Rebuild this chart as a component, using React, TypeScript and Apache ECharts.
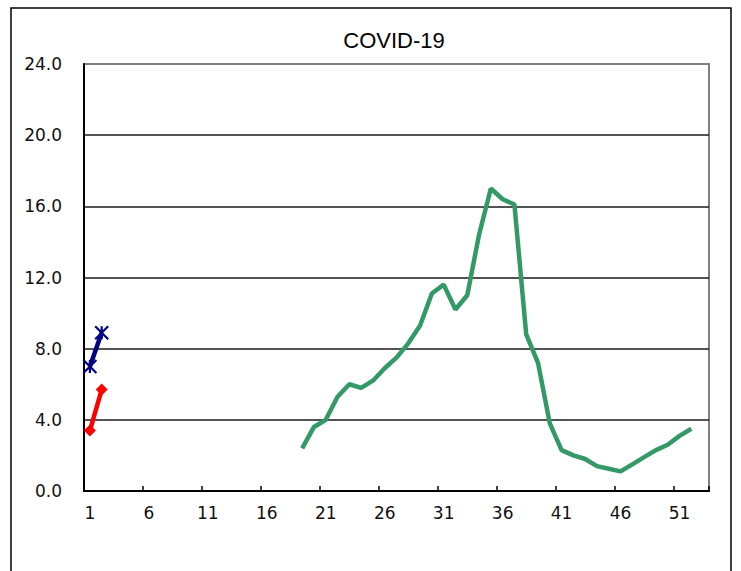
import React, { useEffect, useRef } from "react";
import * as echarts from "echarts";

const weeks: string[] = [
  "1","2","3","4","5","6","7","8","9","10","11","12","13","14","15","16","17","18","19","20",
  "21","22","23","24","25","26","27","28","29","30","31","32","33","34","35","36","37","38","39","40",
  "41","42","43","44","45","46","47","48","49","50","51","52","53",
];

// Week 1-18: no data; week 19-52 values; week 53: no data
const covidGreen: (number | null)[] = [
  null, null, null, null, null, null, null, null, null, null,
  null, null, null, null, null, null, null, null,
  2.4, 3.6, 4.0, 5.3, 6.0, 5.8, 6.2, 6.9, 7.5, 8.3, 9.3, 11.1, 11.6, 10.2, 11.0, 14.4,
  17.0, 16.4, 16.1, 8.8, 7.2, 3.8, 2.3, 2.0, 1.8, 1.4, 1.25, 1.1, 1.5, 1.9, 2.3, 2.6,
  3.1, 3.5, null,
];

const seriesRed: (number | null)[] = [3.4, 5.7];
const seriesBlue: (number | null)[] = [7.0, 8.9];

const yTicks: number[] = [0, 4, 8, 12, 16, 20, 24];

export default function App() {
  const ref = useRef<HTMLDivElement>(null);

  useEffect(() => {
    document.body.style.margin = "0";
    if (!ref.current) return;
    const chart = echarts.init(ref.current, undefined, { renderer: "svg" });
    const font = "DejaVu Sans";
    chart.setOption({
      animation: false,
      backgroundColor: "#ffffff",
      title: {
        text: "COVID-19",
        left: 389,
        top: 24,
        textAlign: "center",
        textStyle: {
          fontFamily: "Liberation Sans",
          fontSize: 22,
          fontWeight: "normal",
          color: "#000",
        },
      },
      graphic: [
        {
          type: "rect",
          shape: { x: 11, y: 8, width: 720, height: 620 },
          style: { fill: "none", stroke: "#000", lineWidth: 1.5 },
          silent: true,
          z: 0,
        },
      ],
      grid: {
        left: 84,
        right: 32,
        top: 64,
        bottom: 80,
        show: true,
        borderColor: "#7f7f7f",
        borderWidth: 2,
        backgroundColor: "transparent",
      },
      xAxis: {
        type: "category",
        data: weeks,
        boundaryGap: true,
        axisLine: { show: true, lineStyle: { color: "#000", width: 2 } },
        axisTick: {
          show: true,
          inside: true,
          length: 5,
          interval: 4,
          lineStyle: { color: "#000", width: 1.5 },
        },
        axisLabel: {
          interval: 4,
          margin: 13,
          fontFamily: font,
          fontSize: 17,
          color: "#111",
        },
        splitLine: { show: false },
      },
      yAxis: {
        type: "value",
        min: yTicks[0],
        max: yTicks[yTicks.length - 1],
        interval: 4,
        axisLine: { show: true, lineStyle: { color: "#000", width: 2 } },
        axisTick: { show: false },
        axisLabel: {
          margin: 22,
          fontFamily: font,
          fontSize: 17,
          color: "#111",
          formatter: (v: number) => v.toFixed(1),
        },
        splitLine: {
          show: true,
          showMaxLine: false,
          lineStyle: { color: "#1a1a1a", width: 1.6 },
        },
      },
      series: [
        {
          name: "green",
          type: "line",
          data: covidGreen,
          showSymbol: false,
          symbol: "none",
          connectNulls: false,
          lineStyle: { color: "#339966", width: 4.5 },
          itemStyle: { color: "#339966" },
          z: 3,
        },
        {
          name: "red",
          type: "line",
          data: seriesRed,
          symbol: "diamond",
          symbolSize: 12,
          showSymbol: true,
          showAllSymbol: true,
          lineStyle: { color: "#ff0000", width: 4.5 },
          itemStyle: { color: "#ff0000" },
          z: 4,
        },
        {
          name: "blue",
          type: "line",
          data: seriesBlue,
          symbol: "path://M0,0L10,10M10,0L0,10M5,0L5,10",
          symbolSize: 13,
          showSymbol: true,
          showAllSymbol: true,
          lineStyle: { color: "#000080", width: 4.5 },
          itemStyle: { color: "transparent", borderColor: "#000080", borderWidth: 2.2 },
          z: 4,
        },
      ],
    });
    return () => chart.dispose();
  }, []);

  return <div ref={ref} style={{ width: 741, height: 571 }} />;
}
